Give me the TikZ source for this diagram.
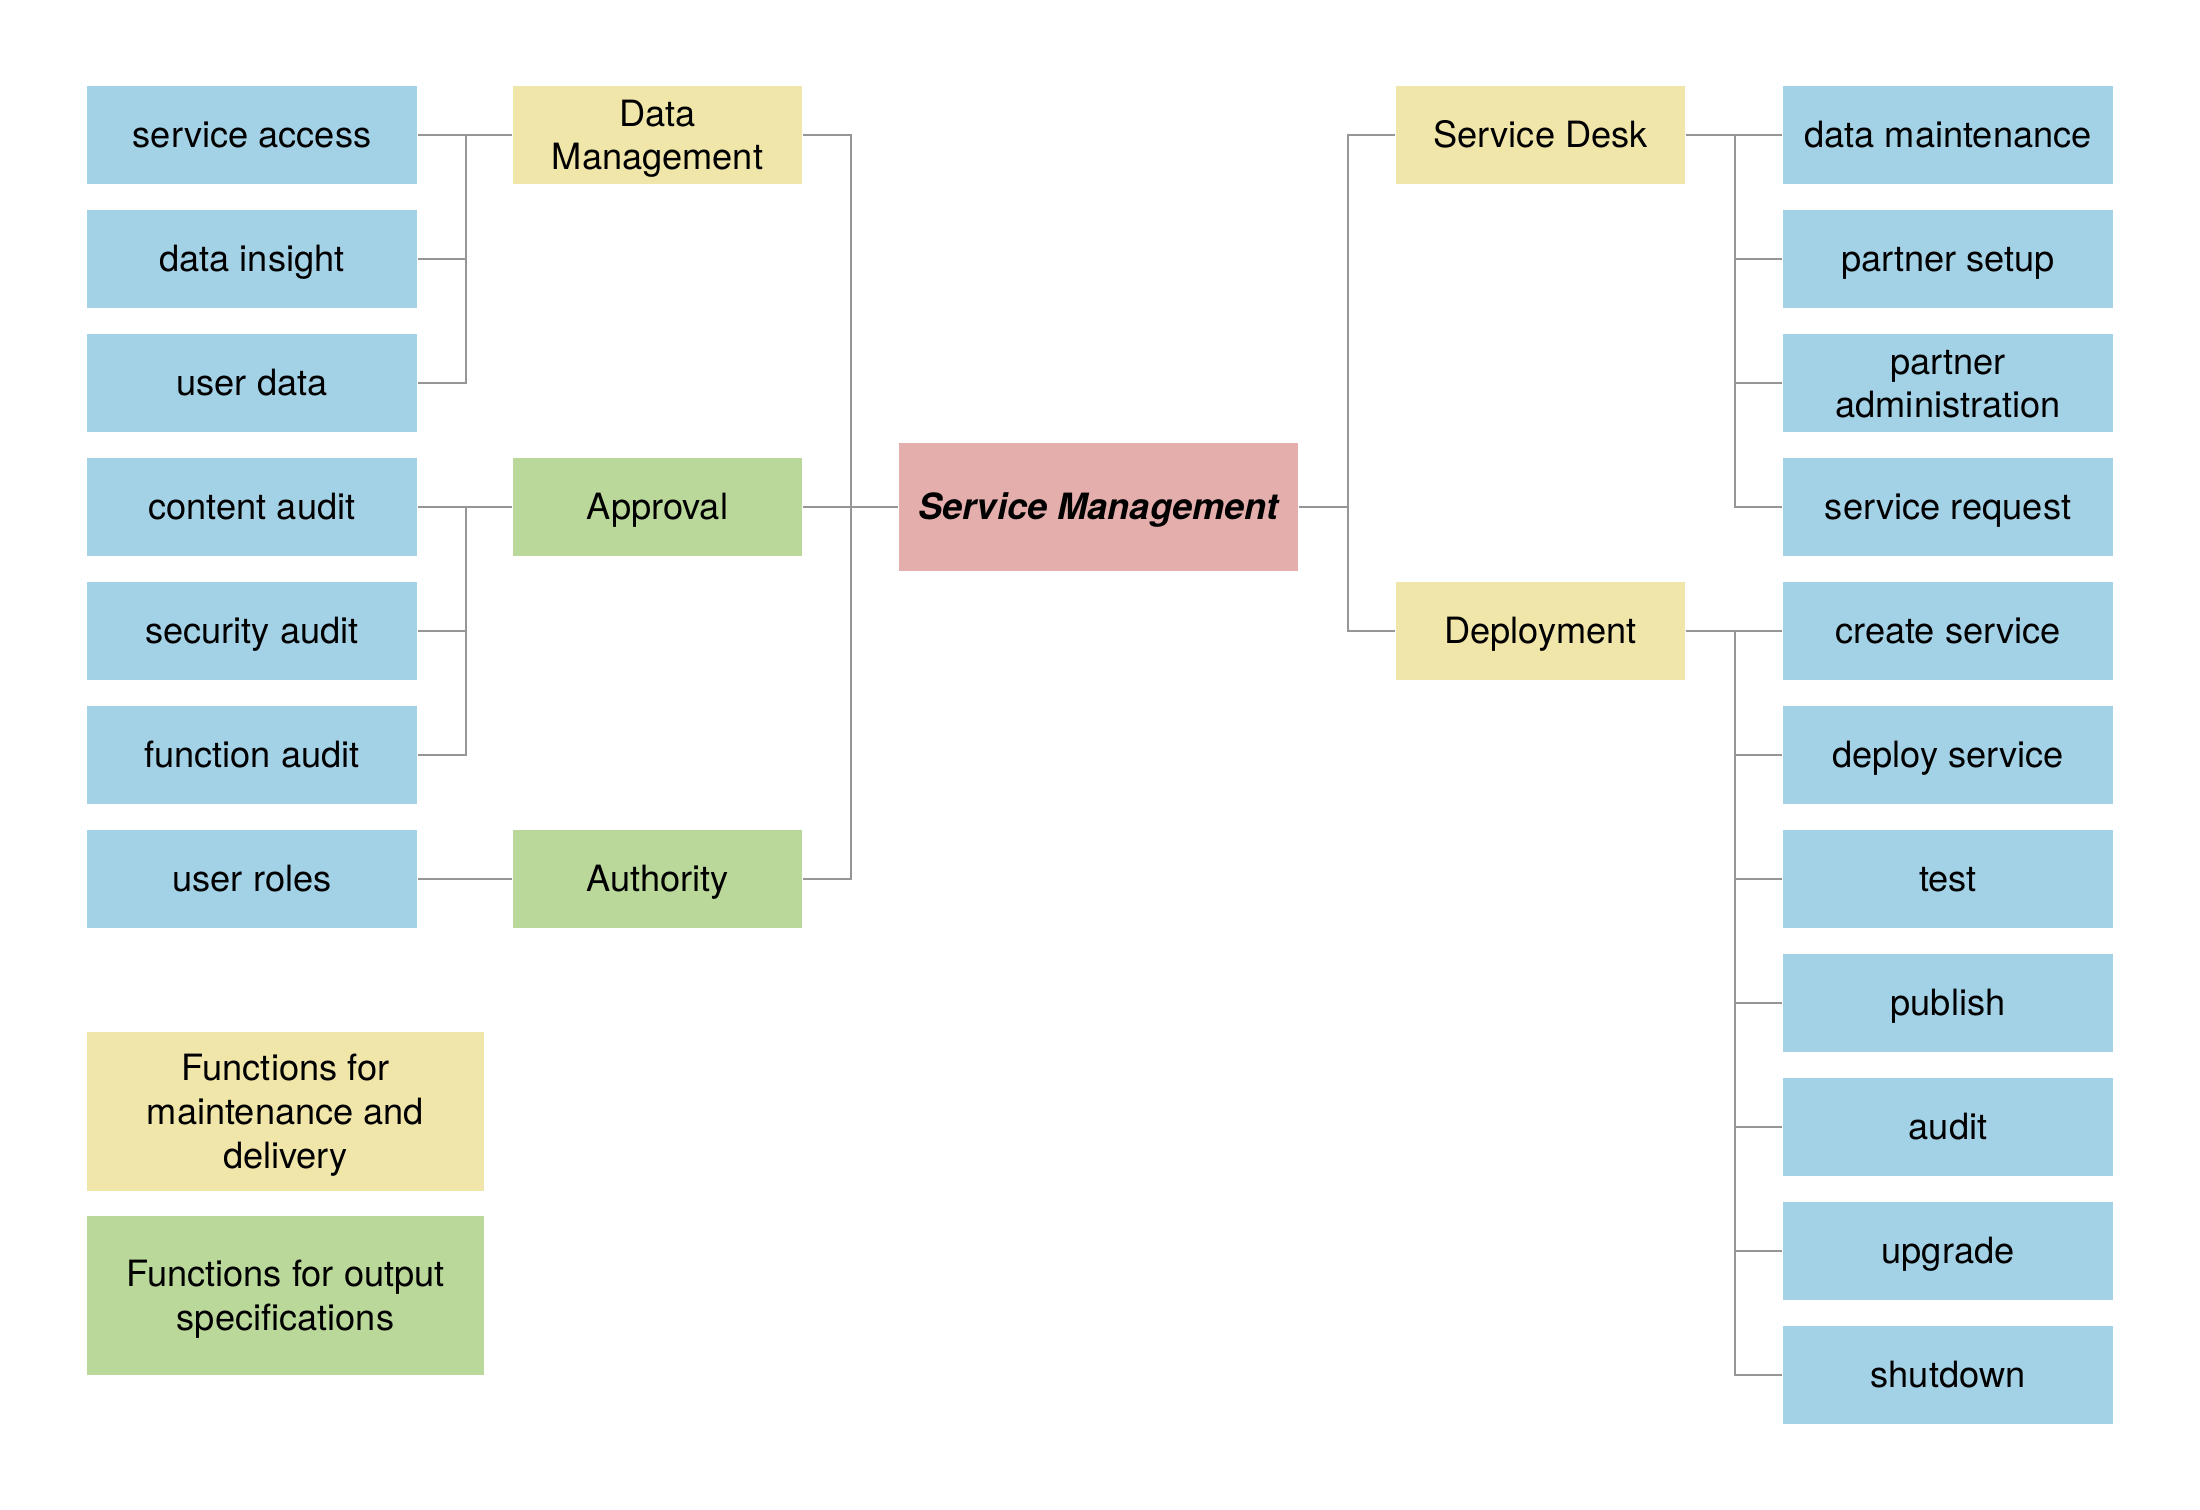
\documentclass[tikz,border=0pt]{standalone}
\usepackage{fontspec}
\setmainfont{TeX Gyre Heros}
\usepackage{tikz}
\usetikzlibrary{positioning}
\definecolor{smblue}{RGB}{163,209,230}
\definecolor{smyellow}{RGB}{240,230,170}
\definecolor{smgreen}{RGB}{187,216,155}
\definecolor{smpink}{RGB}{227,174,172}
\definecolor{smline}{RGB}{150,150,150}

\begin{document}
\begin{tikzpicture}[
  font=\fontsize{10.3}{12.4}\selectfont,
  every node/.style={text height=0.26cm,text depth=0pt},
  twolines/.style={text height=0.696cm},
  threelines/.style={text height=1.132cm},
  leaf/.style={fill=smblue,minimum width=3.3cm,minimum height=0.98cm,align=center,inner sep=0pt},
  func/.style={fill=smyellow,minimum width=2.89cm,minimum height=0.98cm,align=center,inner sep=0pt},
  spec/.style={func,fill=smgreen},
  root/.style={fill=smpink,minimum width=3.99cm,minimum height=1.28cm,inner sep=0pt,font=\fontsize{10.3}{12}\selectfont\bfseries\itshape},
  legend/.style={minimum width=3.97cm,minimum height=1.59cm,align=center,inner sep=0pt},
  link/.style={draw=smline,line width=0.6pt}]
  \useasboundingbox (0,0) rectangle (22,15.1);
  % Root
  \node[root] (sm) at (10.985,10.03) {Service Management};
  % Left branch
  \node[func,twolines] (dm) at (6.575,13.75) {Data\\Management};
  \node[spec] (app) at (6.575,10.03) {Approval};
  \node[spec] (auth) at (6.575,6.31) {Authority};
  \node[leaf] (sa) at (2.52,13.75) {service access};
  \node[leaf] (di) at (2.52,12.51) {data insight};
  \node[leaf] (ud) at (2.52,11.27) {user data};
  \node[leaf] (ca) at (2.52,10.03) {content audit};
  \node[leaf] (sca) at (2.52,8.79) {security audit};
  \node[leaf] (fa) at (2.52,7.55) {function audit};
  \node[leaf] (ur) at (2.52,6.31) {user roles};
  % Right branch
  \node[func] (sd) at (15.405,13.75) {Service Desk};
  \node[func] (dep) at (15.405,8.79) {Deployment};
  \node[leaf] (dmt) at (19.48,13.75) {data maintenance};
  \node[leaf] (ps) at (19.48,12.51) {partner setup};
  \node[leaf,twolines] (pa) at (19.48,11.27) {partner\\administration};
  \node[leaf] (sr) at (19.48,10.03) {service request};
  \node[leaf] (cs) at (19.48,8.79) {create service};
  \node[leaf] (ds) at (19.48,7.55) {deploy service};
  \node[leaf] (te) at (19.48,6.31) {test};
  \node[leaf] (pu) at (19.48,5.07) {publish};
  \node[leaf] (au) at (19.48,3.83) {audit};
  \node[leaf] (up) at (19.48,2.59) {upgrade};
  \node[leaf] (sh) at (19.48,1.35) {shutdown};
  % Legend
  \node[legend,threelines,fill=smyellow] (lgf) at (2.855,3.985) {Functions for\\maintenance and\\delivery};
  \node[legend,twolines,fill=smgreen] (lgs) at (2.855,2.145) {Functions for output\\specifications};
  % Connectors, left
  \draw[link] (sa.east) -- (dm.west);
  \draw[link] (di.east) -- ++(0.48,0) |- (dm.west);
  \draw[link] (ud.east) -- ++(0.48,0) |- (dm.west);
  \draw[link] (ca.east) -- (app.west);
  \draw[link] (sca.east) -- ++(0.48,0) |- (app.west);
  \draw[link] (fa.east) -- ++(0.48,0) |- (app.west);
  \draw[link] (ur.east) -- (auth.west);
  \draw[link] (dm.east) -- ++(0.485,0) |- (sm.west);
  \draw[link] (app.east) -- (sm.west);
  \draw[link] (auth.east) -- ++(0.485,0) |- (sm.west);
  % Connectors, right
  \draw[link] (sm.east) -- ++(0.49,0) |- (sd.west);
  \draw[link] (sm.east) -- ++(0.49,0) |- (dep.west);
  \foreach \leafname in {dmt,ps,pa,sr}
    \draw[link] (sd.east) -- ++(0.49,0) |- (\leafname.west);
  \foreach \leafname in {cs,ds,te,pu,au,up,sh}
    \draw[link] (dep.east) -- ++(0.49,0) |- (\leafname.west);
\end{tikzpicture}
\end{document}
